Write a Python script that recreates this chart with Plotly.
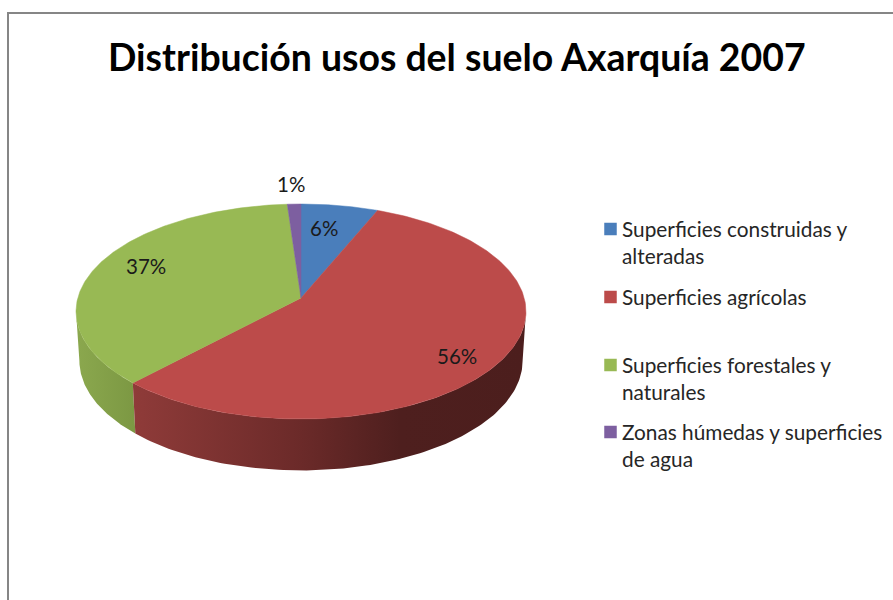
import numpy as np
import plotly.graph_objects as go

title = "Distribución usos del suelo Axarquía 2007"
categories = ["Superficies construidas y<br>alteradas", "Superficies agrícolas",
              "Superficies forestales y<br>naturales", "Zonas húmedas y superficies<br>de agua"]
values = [6.25, 55.75, 36.9, 1.1]
colors = ["#4A7EBB", "#BC4B4A", "#98B954", "#7D5FA0"]

label_pos = [(323.5, 228), (457, 356), (145.5, 266), (291, 184)]
legend_x = 610.5
legend_y = [229, 297, 365, 432]
legend_text_y = [242, 296, 378, 445]
FONT = "Lato"

# perspective projection of the pie disc
CX, CY, A, B, K = 301, 298, 223.2, 105.8, 0.1256
DEPTH, SX, SY = 49, 0.985, 1.02


def top(theta):
    u, v = np.sin(theta), np.cos(theta)
    d = 1 + K * v
    return CX + A * u / d, CY - B * v / d


def bottom(theta):
    x, y = top(theta)
    return CX + SX * (x - CX), CY + DEPTH + SY * (y - CY)


def wall(t0, t1, scale, name):
    t = np.linspace(t0, t1, 120)
    xt, yt = top(t)
    xb, yb = bottom(t[::-1])
    return go.Scatter(x=np.r_[xt, xb], y=np.r_[yt, yb], mode="lines", fill="toself",
                      line=dict(width=0), fillcolor="rgba(0,0,0,0)",
                      fillgradient=dict(type="horizontal", colorscale=scale),
                      hoverinfo="skip", showlegend=False, name=name)


fig = go.Figure()
edges = np.r_[0, np.cumsum(values)] / sum(values) * 2 * np.pi
left_limit = np.pi + np.arccos(K) + 0.0
right_limit = np.pi - np.arccos(K)

fig.add_trace(wall(left_limit, edges[2], [[0, "#8BA84E"], [1, "#7C9843"]], "wall forestal"))
fig.add_trace(wall(edges[2], right_limit,
                   [[0, "#8F3B39"], [0.43, "#6B2A29"], [0.68, "#4E1F1E"], [1, "#4C1E1D"]],
                   "wall agrícola"))

for i, (cat, col) in enumerate(zip(categories, colors)):
    t = np.linspace(edges[i], edges[i + 1], 200)
    x, y = top(t)
    fig.add_trace(go.Scatter(x=np.r_[CX, x, CX], y=np.r_[CY, y, CY], mode="lines", fill="toself",
                             fillcolor=col, line=dict(color=col, width=0.5),
                             name=cat.replace("<br>", " "), showlegend=False))

fig.add_trace(go.Scatter(x=[legend_x] * 4, y=legend_y, mode="markers", showlegend=False,
                         marker=dict(symbol="square", size=12.5, color=colors), hoverinfo="skip"))

ann = [dict(x=456.5, y=56, text=f"<b>{title}</b>", showarrow=False,
            font=dict(family=FONT, size=37.4, color="#000000"))]
total = sum(values)
for v, (x, y) in zip(values, label_pos):
    ann.append(dict(x=x, y=y, text=f"{round(v / total * 100)}%", showarrow=False,
                    font=dict(family=FONT, size=20.5, color="#1a1a1a")))
for cat, y in zip(categories, legend_text_y):
    ann.append(dict(x=620, y=y, text=cat, showarrow=False, xanchor="left", align="left",
                    font=dict(family=FONT, size=20.8, color="#262626")))

fig.update_layout(
    width=893, height=600, margin=dict(l=0, r=0, t=0, b=0),
    paper_bgcolor="white", plot_bgcolor="white", showlegend=False,
    xaxis=dict(range=[0, 893], visible=False, fixedrange=True),
    yaxis=dict(range=[600, 0], visible=False, fixedrange=True),
    annotations=ann,
    shapes=[dict(type="path", path="M 8 600 L 8 13 L 893 13", line=dict(color="#868686", width=2))],
)
fig.write_html("out.html", config=dict(displayModeBar=False),
               post_script="document.body.style.margin='0';document.documentElement.style.overflow='hidden';")
